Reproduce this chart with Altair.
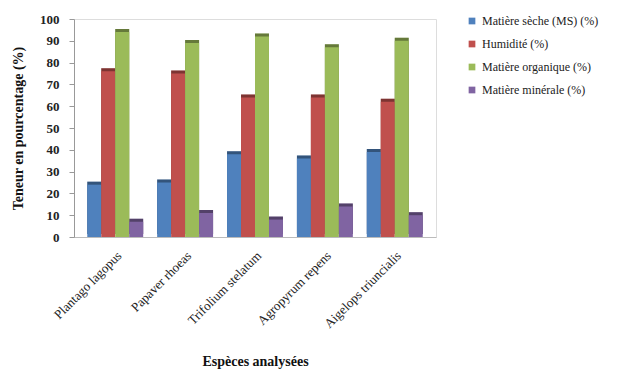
import altair as alt
import pandas as pd

# Species analysed and measured contents (%)
species = ["Plantago lagopus", "Papaver rhoeas", "Trifolium stelatum",
           "Agropyrum repens", "Aigelops triuncialis"]
series = ["Matière sèche (MS) (%)", "Humidité (%)",
          "Matière organique (%)", "Matière minérale (%)"]
matiere_seche = [24, 25, 38, 36, 39]
humidite = [76, 75, 64, 64, 62]
matiere_organique = [94, 89, 92, 87, 90]
matiere_minerale = [7, 11, 8, 14, 10]

colors = ["#4F81BD", "#C0504D", "#9BBB59", "#8064A2"]

rows = []
for name, vals in zip(series, [matiere_seche, humidite, matiere_organique, matiere_minerale]):
    for sp, v in zip(species, vals):
        rows.append({"Espèce": sp, "Série": name, "Valeur": v})
df = pd.DataFrame(rows)

serif = "Liberation Serif"

x_enc = alt.X("Espèce:N", sort=species, title="Espèces analysées",
              scale=alt.Scale(paddingInner=0.2, paddingOuter=0.19),
              axis=alt.Axis(labelAngle=-45, labelFont=serif,
                            labelFontSize=13, labelColor="#222",
                            titleFont=serif, titleFontSize=14,
                            titleFontWeight="bold", titleColor="#111",
                            titlePadding=24, ticks=False, domainColor="#bbb",
                            labelPadding=12))
xoff = alt.XOffset("Série:N", sort=series)
y_enc = alt.Y("Valeur:Q", title="Teneur en pourcentage (%)",
              scale=alt.Scale(domain=[0, 100]),
              axis=alt.Axis(values=list(range(0, 101, 10)), grid=False,
                            labelFont=serif, labelFontSize=13,
                            labelFontWeight="bold", labelColor="#222",
                            titleFont=serif, titleFontSize=14,
                            titleFontWeight="bold", titleColor="#111",
                            domainColor="#999", tickColor="#999",
                            tickSize=5, labelPadding=10, titlePadding=14))
color_enc = alt.Color("Série:N", sort=series,
                      scale=alt.Scale(domain=series, range=colors),
                      legend=alt.Legend(title=None, orient="none",
                                        legendX=392, legendY=-4,
                                        labelFont=serif, labelFontSize=12,
                                        labelColor="#222", symbolType="square",
                                        symbolSize=45, rowPadding=11))

# Shifted copy, darkened, gives the bars a sense of depth
depth = alt.Chart(df).mark_bar(xOffset=4, yOffset=-3).encode(
    x=x_enc, xOffset=xoff, y=y_enc, color=color_enc)
shade = alt.Chart(df).mark_bar(xOffset=4, yOffset=-3, color="black",
                               opacity=0.35).encode(
    x=x_enc, xOffset=xoff, y=y_enc)
front = alt.Chart(df).mark_bar().encode(
    x=x_enc, xOffset=xoff, y=y_enc, color=color_enc)

chart = alt.layer(depth, shade, front).properties(
    width=362, height=218,
    padding={"left": 11, "top": 13, "right": 5, "bottom": 5},
).configure_view(strokeWidth=0).configure(background="white")

chart.save("out.html", embed_options={"renderer": "svg", "actions": False})
